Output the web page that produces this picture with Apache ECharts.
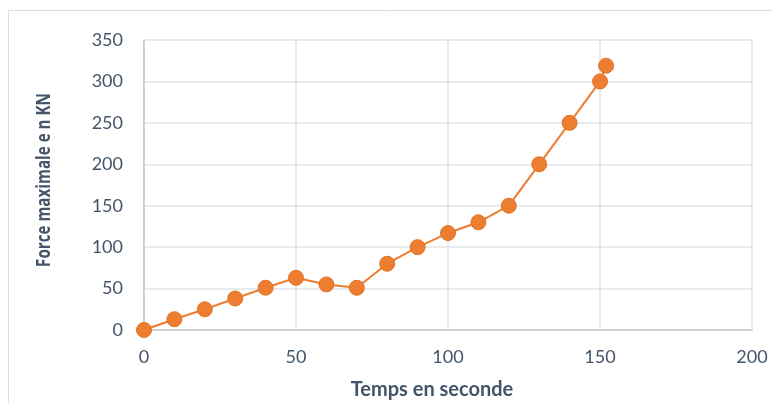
<!DOCTYPE html>
<html>
<head>
<meta charset="utf-8">
<script src="https://cdn.jsdelivr.net/npm/echarts@6/dist/echarts.min.js"></script>
<style>
html,body{margin:0;padding:0;background:#fff;}
#chart{width:772px;height:403px;}
</style>
</head>
<body>
<div id="chart"></div>
<script>
var timeSeconds = [0, 10, 20, 30, 40, 50, 60, 70, 80, 90, 100, 110, 120, 130, 140, 150, 152];
var forceKN = [0, 13, 25, 38, 51, 63, 55, 51, 80, 100, 117, 130, 150, 200, 250, 300, 319];
var xTitle = 'Temps en seconde';
var yTitle = 'Force maximale e n KN';

var points = timeSeconds.map(function (t, i) { return [t, forceKN[i]]; });

var chart = echarts.init(document.getElementById('chart'), null, {renderer: 'canvas'});
chart.setOption({
  animation: false,
  backgroundColor: '#ffffff',
  graphic: [{
    type: 'rect',
    shape: {x: 8.5, y: 10.5, width: 800, height: 500},
    style: {fill: 'none', stroke: '#d9dde3', lineWidth: 1},
    z: -1
  }, {
    type: 'text',
    x: 432, y: 390,
    style: {text: xTitle, font: 'bold 20px Lato', fill: '#44546A', align: 'center', verticalAlign: 'middle'}
  }, {
    type: 'text',
    x: 45, y: 180,
    rotation: Math.PI / 2,
    scaleX: 0.8,
    style: {text: yTitle, font: 'bold 19px "Open Sans"', fill: '#44546A', align: 'center', verticalAlign: 'middle'}
  }],
  grid: {left: 144, right: 20, top: 40, bottom: 73, containLabel: false},
  xAxis: {
    type: 'value',
    min: 0, max: 200, interval: 50,
    axisLine: {show: true, lineStyle: {color: '#c3c9d2', width: 1.5}},
    axisTick: {show: false},
    axisLabel: {fontFamily: 'Lato', fontSize: 18, color: '#44546A', margin: 18},
    splitLine: {show: true, lineStyle: {color: '#dfe3e8', width: 1.5}}
  },
  yAxis: {
    type: 'value',
    min: 0, max: 350, interval: 50,
    axisLine: {show: true, lineStyle: {color: '#c3c9d2', width: 1.5}},
    axisTick: {show: false},
    axisLabel: {fontFamily: 'Lato', fontSize: 18, color: '#44546A', margin: 21},
    splitLine: {show: true, lineStyle: {color: '#dfe3e8', width: 1.5}}
  },
  series: [{
    type: 'line',
    data: points,
    symbol: 'circle',
    symbolSize: 15,
    lineStyle: {color: '#ED7D31', width: 2},
    itemStyle: {color: '#ED7D31', borderColor: '#E27322', borderWidth: 1}
  }]
});
</script>
</body>
</html>
